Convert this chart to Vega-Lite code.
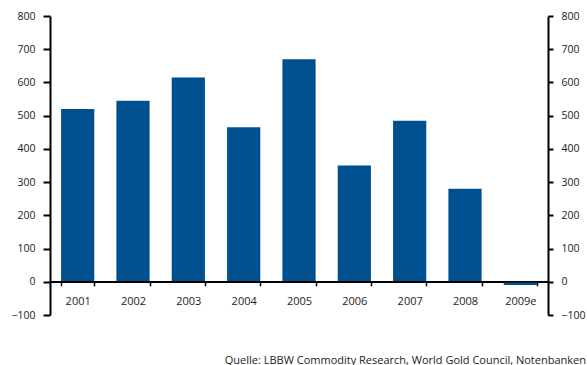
{
  "$schema": "https://vega.github.io/schema/vega-lite/v6.json",
  "width": 498,
  "height": 299,
  "autosize": "none",
  "padding": {"left": 50, "top": 16, "right": 39, "bottom": 50},
  "config": {
    "view": {"stroke": null},
    "font": "Open Sans",
    "axis": {
      "grid": false,
      "domainColor": "#000000",
      "tickColor": "#000000",
      "labelColor": "#222222",
      "labelFont": "Open Sans",
      "labelFontSize": 10.5,
      "title": null
    }
  },
  "title": {
    "text": "Quelle: LBBW Commodity Research, World Gold Council, Notenbanken",
    "orient": "bottom",
    "anchor": "end",
    "frame": "group",
    "offset": 34,
    "dx": 38,
    "fontSize": 11,
    "fontWeight": "normal",
    "font": "Open Sans",
    "color": "#222222"
  },
  "layer": [
    {
      "data": {
        "values": [
          {"year": "2001", "value": 520},
          {"year": "2002", "value": 545},
          {"year": "2003", "value": 615},
          {"year": "2004", "value": 465},
          {"year": "2005", "value": 670},
          {"year": "2006", "value": 350},
          {"year": "2007", "value": 485},
          {"year": "2008", "value": 280},
          {"year": "2009e", "value": -10}
        ]
      },
      "mark": {"type": "bar", "color": "#00508f"},
      "encoding": {
        "x": {
          "field": "year",
          "type": "ordinal",
          "sort": null,
          "scale": {"paddingInner": 0.4, "paddingOuter": 0.2},
          "axis": {
            "offset": -33.2,
            "tickBand": "extent",
            "tickSize": 4,
            "tickWidth": 1.5,
            "domainWidth": 1.5,
            "labelPadding": 10,
            "labelAngle": 0,
            "labelFontSize": 11
          }
        },
        "y": {
          "field": "value",
          "type": "quantitative",
          "scale": {"domain": [-100, 800], "nice": false, "zero": false},
          "axis": {
            "orient": "left",
            "values": [-100, 0, 100, 200, 300, 400, 500, 600, 700, 800],
            "tickSize": 7,
            "tickWidth": 2,
            "domainWidth": 2,
            "labelPadding": 8
          }
        }
      }
    },
    {
      "data": {"values": [{"level": 0}]},
      "mark": {"type": "rule", "color": "#000000", "strokeWidth": 1.5},
      "encoding": {
        "y": {
          "field": "level",
          "type": "quantitative",
          "scale": {"domain": [-100, 800], "nice": false, "zero": false},
          "axis": {
            "orient": "right",
            "values": [-100, 0, 100, 200, 300, 400, 500, 600, 700, 800],
            "tickSize": 5,
            "tickWidth": 2,
            "domainWidth": 2,
            "labelPadding": 8
          }
        }
      }
    }
  ],
  "resolve": {"scale": {"y": "independent"}}
}
